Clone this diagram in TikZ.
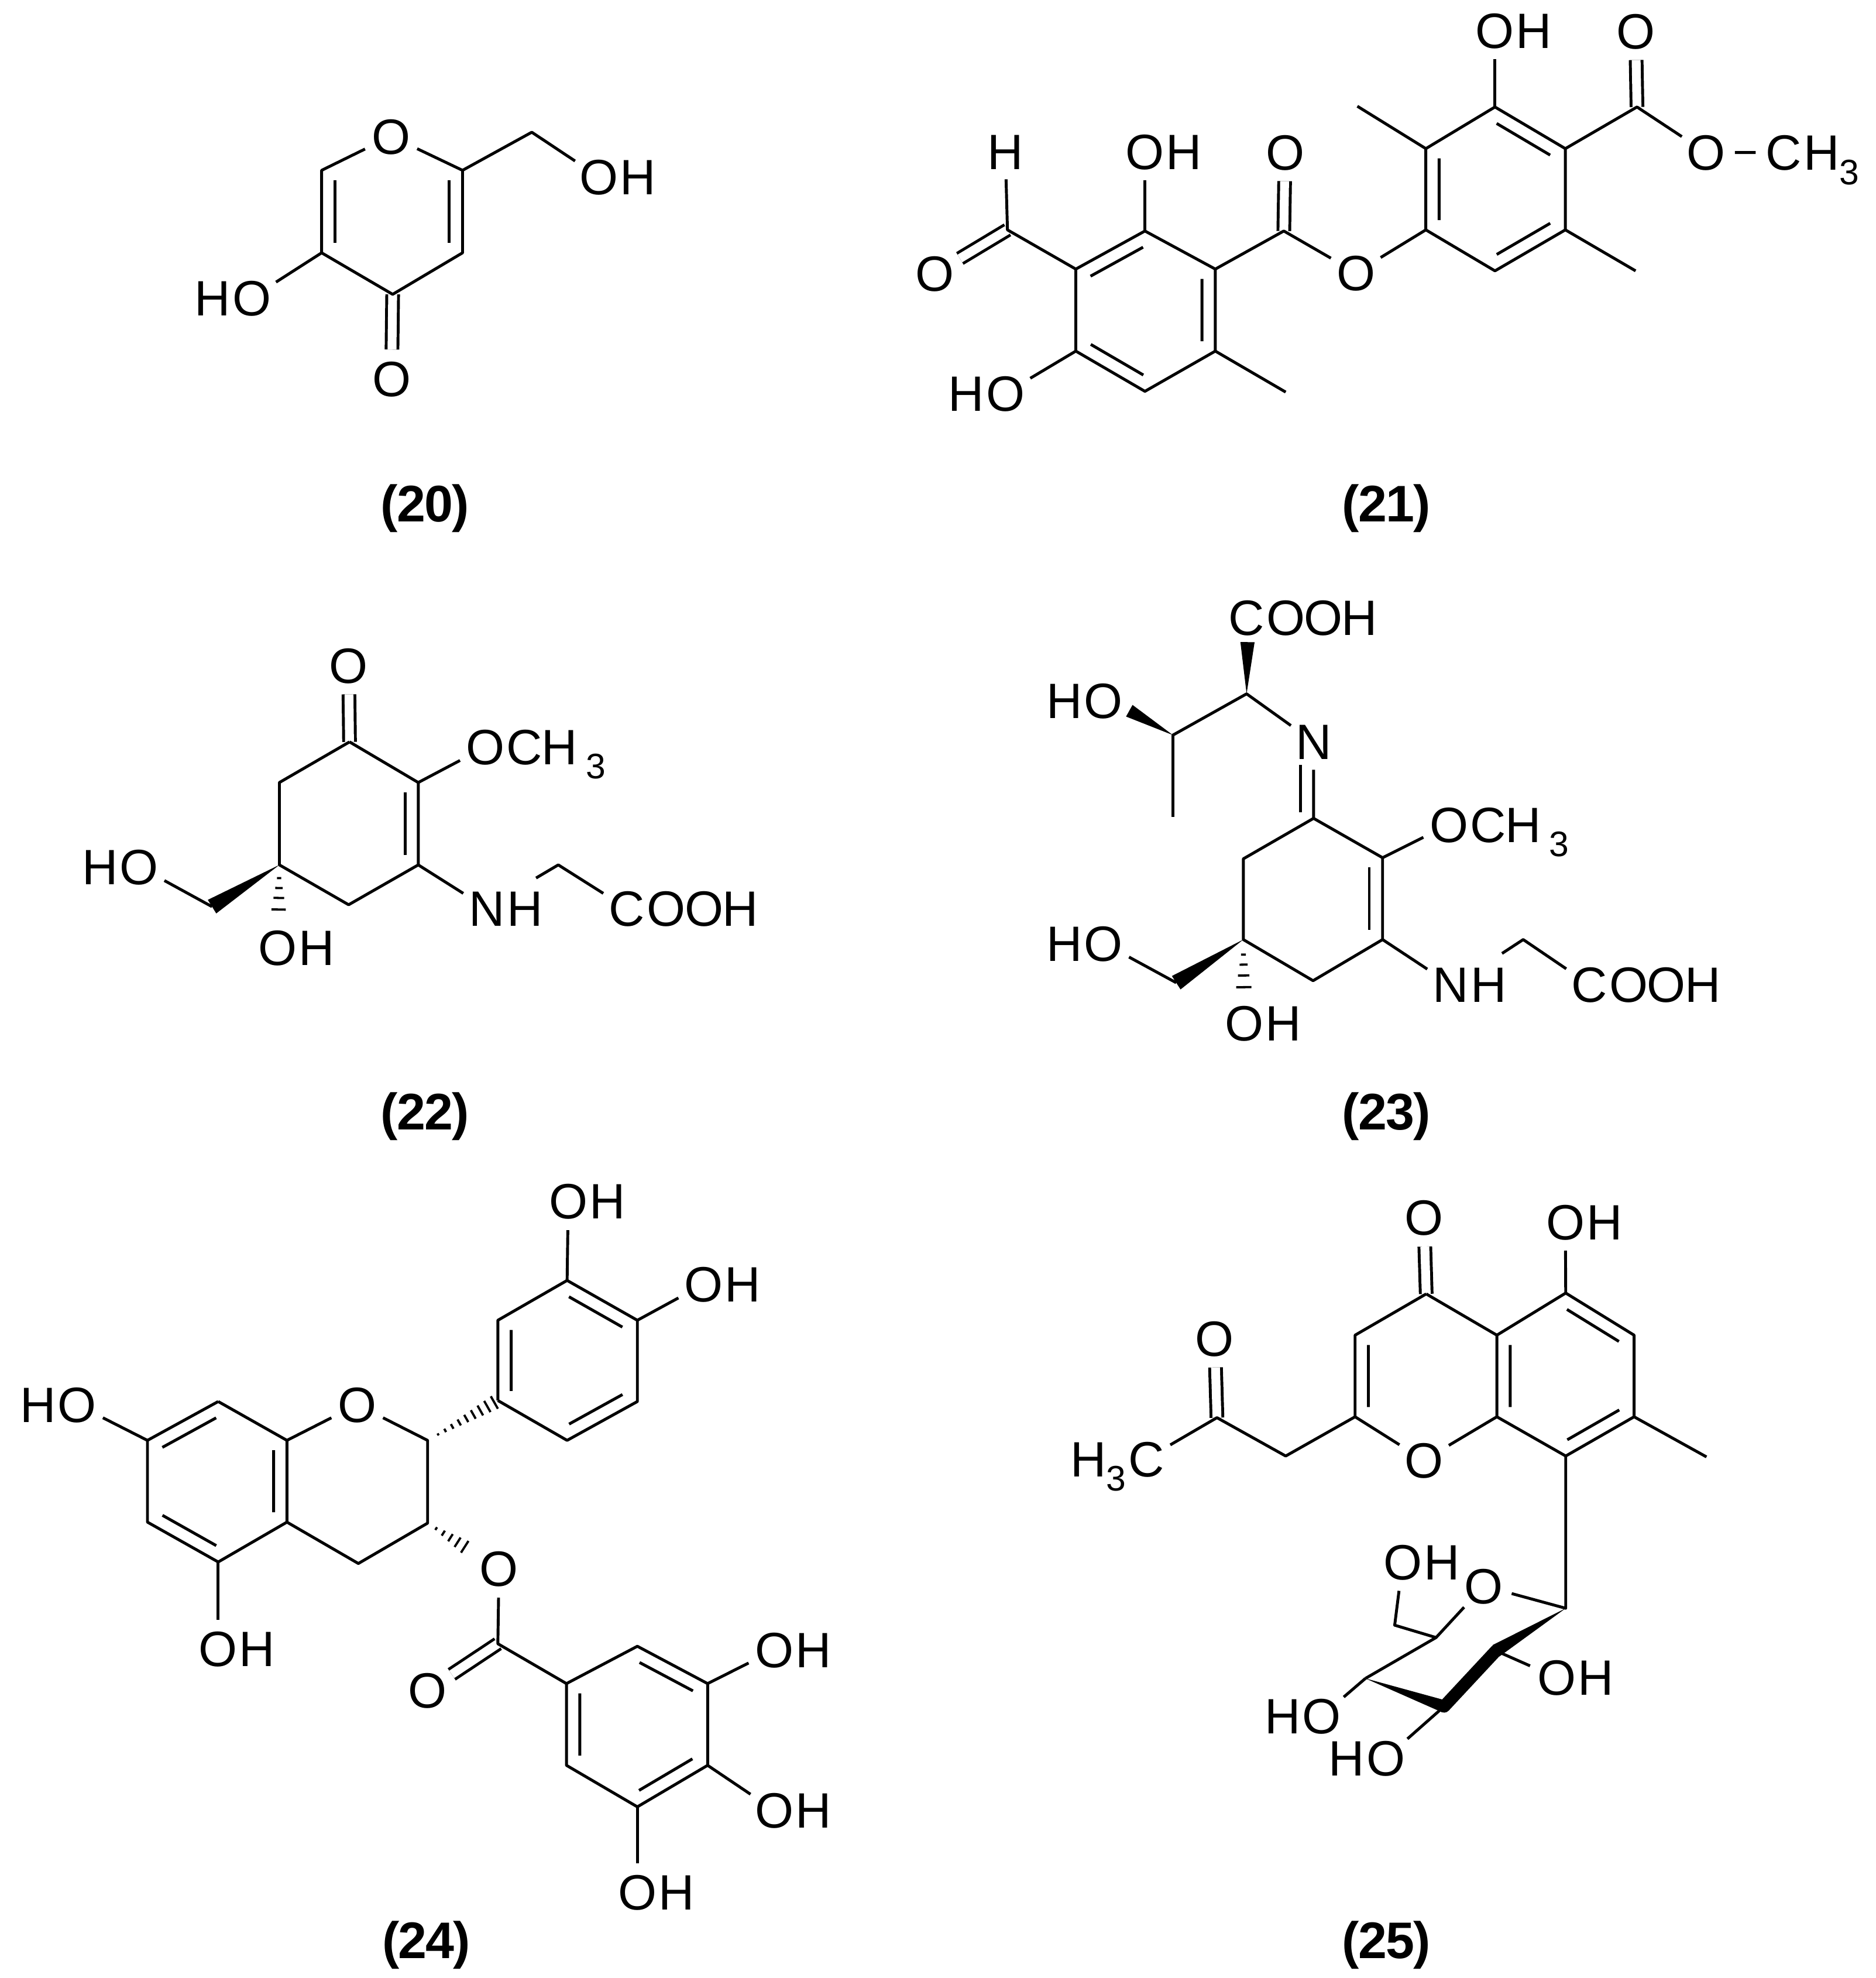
\documentclass[tikz,border=0pt]{standalone}
\usepackage{fontspec}
\setmainfont{Liberation Sans}[LetterSpace=-2]
\usetikzlibrary{calc}
\newcommand{\subthree}{\raisebox{-3.2pt}{\fontsize{8}{8}\selectfont 3}}
\tikzset{atom/.style = {circle, inner sep=0.2pt, text height=8pt, text depth=0pt,
                        font=\fontsize{11.2}{12}\selectfont},
         atomh/.style = {inner sep=0pt, text height=8pt, text depth=0pt,
                         font=\fontsize{11.2}{12}\selectfont},
         molnum/.style = {inner sep=0pt, font=\fontsize{11.6}{12}\selectfont\bfseries},
         cbond/.style = {double, double distance=2pt},
         inbond/.style = {to path={($(\tikztostart)!.12!(\tikztotarget)!#1!90:(\tikztotarget)$)
                                   -- ($(\tikztotarget)!.12!(\tikztostart)!#1!-90:(\tikztostart)$)}},
         inbond/.default = 3pt,
         wedgebond/.style = {to path={($(\tikztotarget)!#1!90:(\tikztostart)$) -- (\tikztostart)
                                      -- ($(\tikztotarget)!#1!-90:(\tikztostart)$) -- cycle}}}

\begin{document}
\begin{tikzpicture}[x=0.01cm, y=-0.01cm, line width=0.65pt, line join=round, label distance=-2.1pt]
    \useasboundingbox (0, 0) rectangle (1487, 1568);

    \coordinate (a1) at (366.7, 135); \coordinate (a2) at (366.7, 200.4); \coordinate (a3) at (311.3, 233.3);
    \coordinate (a4) at (255, 200.4); \coordinate (a5) at (255, 135); \coordinate (a6) at (421.6, 104.8);
    \node [atom] (oa1) at (310, 108) {O};
    \node [atom] (oa2) at (310.5, 300) {O};
    \node [atom, label={[atomh]right:H}] (oa3) at (475, 140.3) {O};
    \node [atom, label={[atomh]left:H}] (oa4) at (199.5, 236) {O};
    \draw [cbond] (a3) -- (oa2);
    \draw (oa1) -- (a1) -- (a2) -- (a3) -- (a4) -- (a5) -- (oa1);
    \draw (a1) -- (a6) -- (oa3);
    \draw (a4) -- (oa4);
    \draw [inbond] (a2) to (a1) (a5) to (a4);
    \node [molnum] (n20) at (337, 403) {(20)};

    \coordinate (b1) at (907.7, 183.1); \coordinate (b2) at (963.5, 213.3); \coordinate (b3) at (963.5, 278.3);
    \coordinate (b4) at (907.7, 310.2); \coordinate (b5) at (852.9, 278.3); \coordinate (b6) at (852.9, 213.3);
    \coordinate (b7) at (798.7, 182.2); \coordinate (b8) at (1017.8, 183.1); \coordinate (b9) at (1019.3, 310.8);
    \coordinate (d1) at (1185.2, 84.8); \coordinate (d2) at (1241, 117.8); \coordinate (d3) at (1241, 182.2);
    \coordinate (d4) at (1185.2, 214.7); \coordinate (d5) at (1130.4, 182.2); \coordinate (d6) at (1130.4, 117.8);
    \coordinate (d7) at (1297.8, 84.8); \coordinate (d8) at (1076.1, 84.2); \coordinate (d9) at (1296.7, 214.7);
    \node [atom] (hb1) at (797, 120) {H};
    \node [atom] (ob1) at (741.3, 216.7) {O};
    \node [atom, label={[atomh]right:H}] (ob2) at (907.7, 120) {O};
    \node [atom, label={[atomh]left:H}] (ob3) at (797.1, 311.6) {O};
    \node [atom] (ob4) at (1018.8, 120.6) {O};
    \node [atom] (ob5) at (1075, 216.1) {O};
    \node [atom, label={[atomh]right:H}] (ob6) at (1185.2, 24) {O};
    \node [atom] (ob7) at (1296.7, 24.6) {O};
    \node [atom] (ob8) at (1352.5, 120.9) {O};
    \node [atom, label={[atomh]right:H\subthree}] (cb1) at (1414, 120.9) {C};
    \draw [cbond] (b7) -- (ob1);
    \draw [cbond] (b8) -- (ob4);
    \draw [cbond] (d7) -- (ob7);
    \draw (b1) -- (b2) -- (b3) -- (b4) -- (b5) -- (b6) -- (b1);
    \draw (d1) -- (d2) -- (d3) -- (d4) -- (d5) -- (d6) -- (d1);
    \draw (b6) -- (b7) -- (hb1);
    \draw (b1) -- (ob2);
    \draw (b5) -- (ob3);
    \draw (b3) -- (b9);
    \draw (b2) -- (b8) -- (ob5) -- (d5);
    \draw (d1) -- (ob6);
    \draw (d6) -- (d8);
    \draw (d3) -- (d9);
    \draw (d2) -- (d7) -- (ob8) -- (cb1);
    \draw [inbond] (b1) to (b6) (b5) to (b4) (b3) to (b2) (d6) to (d5) (d4) to (d3) (d2) to (d1);
    \node [molnum] (n21) at (1099, 403) {(21)};

    \coordinate (r1) at (277.1, 588.1); \coordinate (r2) at (331.6, 620.3); \coordinate (r3) at (331.6, 685.6);
    \coordinate (r4) at (276.4, 717.2); \coordinate (r5) at (221.5, 685.6); \coordinate (r6) at (221.5, 620.3);
    \coordinate (r7) at (168.1, 718.7); \coordinate (r8) at (442.6, 685.6); \coordinate (r9) at (425, 696);
    \node [atom] (oc1) at (276.4, 527.4) {O};
    \node [atom, label={[atomh]right:CH\,\subthree}] (oc2) at (385, 592.1) {O};
    \node [atom, label={[atomh]right:H}] (nc1) at (386, 720) {N};
    \node [atom, label={[atomh]right:OOH}] (cc1) at (497, 720) {C};
    \node [atom, label={[atomh]left:H}] (oc3) at (110.2, 687) {O};
    \node [atom, label={[atomh]right:H}] (oc4) at (220.3, 751.1) {O};
    \draw [cbond] (r1) -- (oc1);
    \draw (r1) -- (r2) -- (r3) -- (r4) -- (r5) -- (r6) -- (r1);
    \draw (r2) -- (oc2);
    \draw (r3) -- (nc1);
    \draw (r9) -- (r8) -- (cc1);
    \draw (r7) -- (oc3);
    \draw [inbond] (r3) to (r2);
    \fill [wedgebond=1.8pt] (r5) to (r7);
    \foreach \t in {.16, .28, .40, .54}
        \draw [line width=0.5pt] ($(r5)!\t!(oc4)!\t*3pt!90:(oc4)$) -- ($(r5)!\t!(oc4)!\t*3pt!-90:(oc4)$);
    \node [molnum] (n22) at (337, 885) {(22)};

    \coordinate (s1) at (988.3, 550); \coordinate (s2) at (929.9, 582.7); \coordinate (s3) at (929.9, 647.5);
    \coordinate (s4) at (989, 509); \coordinate (s5) at (895.3, 563.4);
    \coordinate (s6) at (1031, 643.7); \coordinate (s7) at (1031, 606.5);
    \coordinate (t1) at (1041.4, 648.7); \coordinate (t2) at (1096.1, 679.9); \coordinate (t3) at (1096.1, 744.8);
    \coordinate (t4) at (1041, 777.4); \coordinate (t5) at (985.7, 744.8); \coordinate (t6) at (985.7, 680.8);
    \coordinate (t7) at (932.5, 779); \coordinate (t8) at (1207.6, 744.8); \coordinate (t9) at (1190.8, 755.8);
    \node [atom, label={[atomh]right:OOH}] (cd1) at (988, 489.7) {C};
    \node [atom, label={[atomh]left:H}] (od1) at (874.9, 555.4) {O};
    \node [atom] (nd1) at (1041.4, 588) {N};
    \node [atom, label={[atomh]right:CH\,\subthree}] (od2) at (1149, 653.5) {O};
    \node [atom, label={[atomh]right:H}] (nd2) at (1150, 780.4) {N};
    \node [atom, label={[atomh]right:OOH}] (cd2) at (1260, 780.4) {C};
    \node [atom, label={[atomh]left:H}] (od3) at (874.9, 747.7) {O};
    \node [atom, label={[atomh]right:H}] (od4) at (986.4, 811) {O};
    \draw (s3) -- (s2) -- (s1) -- (nd1) -- (t1);
    \draw (s6) -- (s7);
    \draw (t1) -- (t2) -- (t3) -- (t4) -- (t5) -- (t6) -- (t1);
    \draw (t2) -- (od2);
    \draw (t3) -- (nd2);
    \draw (t9) -- (t8) -- (cd2);
    \draw (t7) -- (od3);
    \draw [inbond] (t3) to (t2);
    \fill [wedgebond=1.6pt] (s1) to (s4);
    \fill [wedgebond=1.5pt] (s2) to (s5);
    \fill [wedgebond=1.8pt] (t5) to (t7);
    \foreach \t in {.18, .30, .43, .57}
        \draw [line width=0.5pt] ($(t5)!\t!(od4)!\t*3pt!90:(od4)$) -- ($(t5)!\t!(od4)!\t*3pt!-90:(od4)$);
    \node [molnum] (n23) at (1099, 885) {(23)};

    \coordinate (u1) at (173, 1111); \coordinate (u2) at (227.5, 1141.8); \coordinate (u3) at (227.5, 1206.6);
    \coordinate (u4) at (173, 1238.2); \coordinate (u5) at (116.9, 1206.6); \coordinate (u6) at (116.9, 1141.8);
    \coordinate (v1) at (339, 1141.8); \coordinate (v2) at (339, 1207.4); \coordinate (v3) at (284.1, 1239.4);
    \coordinate (w1) at (394.7, 1110.2); \coordinate (w2) at (394.7, 1046.6); \coordinate (w3) at (449.6, 1015);
    \coordinate (w4) at (505.3, 1046.6); \coordinate (w5) at (505.3, 1111); \coordinate (w6) at (449.6, 1141.8);
    \coordinate (x1) at (394.7, 1303);
    \coordinate (y1) at (449.1, 1334.6); \coordinate (y2) at (505.3, 1305); \coordinate (y3) at (561, 1334.6);
    \coordinate (y4) at (561, 1399.4); \coordinate (y5) at (505.3, 1432.3); \coordinate (y6) at (449.1, 1399.4);
    \node [atom, label={[atomh]left:H}] (oe1) at (61.1, 1113.5) {O};
    \node [atom, label={[atomh]right:H}] (oe2) at (173, 1307) {O};
    \node [atom] (oe3) at (283.2, 1113.5) {O};
    \node [atom, label={[atomh]right:H}] (oe4) at (450.5, 952.2) {O};
    \node [atom, label={[atomh]right:H}] (oe5) at (558, 1017.9) {O};
    \node [atom] (oe6) at (395.6, 1243.5) {O};
    \node [atom] (oe7) at (339, 1340) {O};
    \node [atom, label={[atomh]right:H}] (oe8) at (614, 1308) {O};
    \node [atom, label={[atomh]right:H}] (oe9) at (614, 1435.1) {O};
    \node [atom, label={[atomh]right:H}] (oe10) at (505.3, 1500) {O};
    \draw [cbond] (x1) -- (oe7);
    \draw (u1) -- (u2) -- (u3) -- (u4) -- (u5) -- (u6) -- (u1);
    \draw (u2) -- (oe3) -- (v1) -- (v2) -- (v3) -- (u3);
    \draw (u6) -- (oe1);
    \draw (u4) -- (oe2);
    \draw (w1) -- (w2) -- (w3) -- (w4) -- (w5) -- (w6) -- (w1);
    \draw (w3) -- (oe4);
    \draw (w4) -- (oe5);
    \draw (oe6) -- (x1) -- (y1);
    \draw (y1) -- (y2) -- (y3) -- (y4) -- (y5) -- (y6) -- (y1);
    \draw (y3) -- (oe8);
    \draw (y4) -- (oe9);
    \draw (y5) -- (oe10);
    \draw [inbond] (u1) to (u6) (u5) to (u4) (u3) to (u2) (w2) to (w1) (w6) to (w5) (w4) to (w3);
    \draw [inbond] (y1) to (y6) (y5) to (y4) (y3) to (y2);
    \foreach \t in {.15, .25, .35, .45, .55, .65, .75, .85, .95}
        \draw [line width=0.5pt] ($(v1)!\t!(w1)!\t*1.7pt!90:(w1)$) -- ($(v1)!\t!(w1)!\t*1.7pt!-90:(w1)$);
    \foreach \t in {.12, .22, .32, .42, .52}
        \draw [line width=0.5pt] ($(v2)!\t!(oe6)!\t*3pt!90:(oe6)$) -- ($(v2)!\t!(oe6)!\t*3pt!-90:(oe6)$);
    \node [molnum] (n24) at (338, 1542) {(24)};

    \coordinate (e1) at (1130.7, 1025.7); \coordinate (e2) at (1074.3, 1058.4); \coordinate (e3) at (1074.3, 1123.1);
    \coordinate (e5) at (1186.7, 1123.1); \coordinate (e6) at (1186.7, 1058.4);
    \coordinate (f1) at (1241.3, 1025); \coordinate (f2) at (1295.5, 1058.4); \coordinate (f3) at (1295.5, 1123.1);
    \coordinate (f4) at (1241.3, 1154.2); \coordinate (f5) at (1352.9, 1154.9);
    \coordinate (g1) at (1019.3, 1154.2); \coordinate (g2) at (964.8, 1123.8);
    \coordinate (h1) at (1241.3, 1274.9); \coordinate (h2) at (1186, 1308.6); \coordinate (h3) at (1144.9, 1352.7);
    \coordinate (h4) at (1082.5, 1330.5); \coordinate (h5) at (1138.5, 1298.1); \coordinate (h6) at (1105.7, 1288.3);
    \node [atom] (of1) at (1128.9, 965.2) {O};
    \node [atom, label={[atomh]right:H}] (of2) at (1241, 968.5) {O};
    \node [atom] (of3) at (1128.9, 1157.5) {O};
    \node [atom] (of4) at (963, 1061) {O};
    \node [atom, label={[atomh]left:H\subthree}] (cf1) at (908.7, 1156.5) {C};
    \node [atom] (of5) at (1176.3, 1257.2) {O};
    \node [atom, label={[atomh]right:H}] (of6) at (1112, 1238.3) {O};
    \node [atom, label={[atomh]right:H}] (of7) at (1234, 1329.8) {O};
    \node [atom, label={[atomh]left:H}] (of8) at (1047.9, 1360.2) {O};
    \node [atom, label={[atomh]left:H}] (of9) at (1098.6, 1393.6) {O};
    \draw [cbond] (e1) -- (of1);
    \draw [cbond] (g2) -- (of4);
    \draw (e1) -- (e2) -- (e3) -- (of3) -- (e5) -- (e6) -- (e1);
    \draw (e6) -- (f1) -- (f2) -- (f3) -- (f4) -- (e5);
    \draw (f1) -- (of2);
    \draw (f3) -- (f5);
    \draw (e3) -- (g1) -- (g2) -- (cf1);
    \draw (f4) -- (h1) -- (of5) -- (h5) -- (h4);
    \draw (h5) -- (h6) -- (of6);
    \draw (h2) -- (of7);
    \draw (h4) -- (of8);
    \draw (h3) -- (of9);
    \draw [inbond] (e2) to (e3) (e6) to (e5) (f2) to (f1) (f4) to (f3);
    \fill [wedgebond=1.5pt] (h1) to (h2);
    \fill [wedgebond=1.4pt] (h4) to (h3);
    \draw [line width=2.8pt, line cap=round] (h2) -- (h3);
    \node [molnum] (n25) at (1099, 1542) {(25)};
\end{tikzpicture}
\end{document}
